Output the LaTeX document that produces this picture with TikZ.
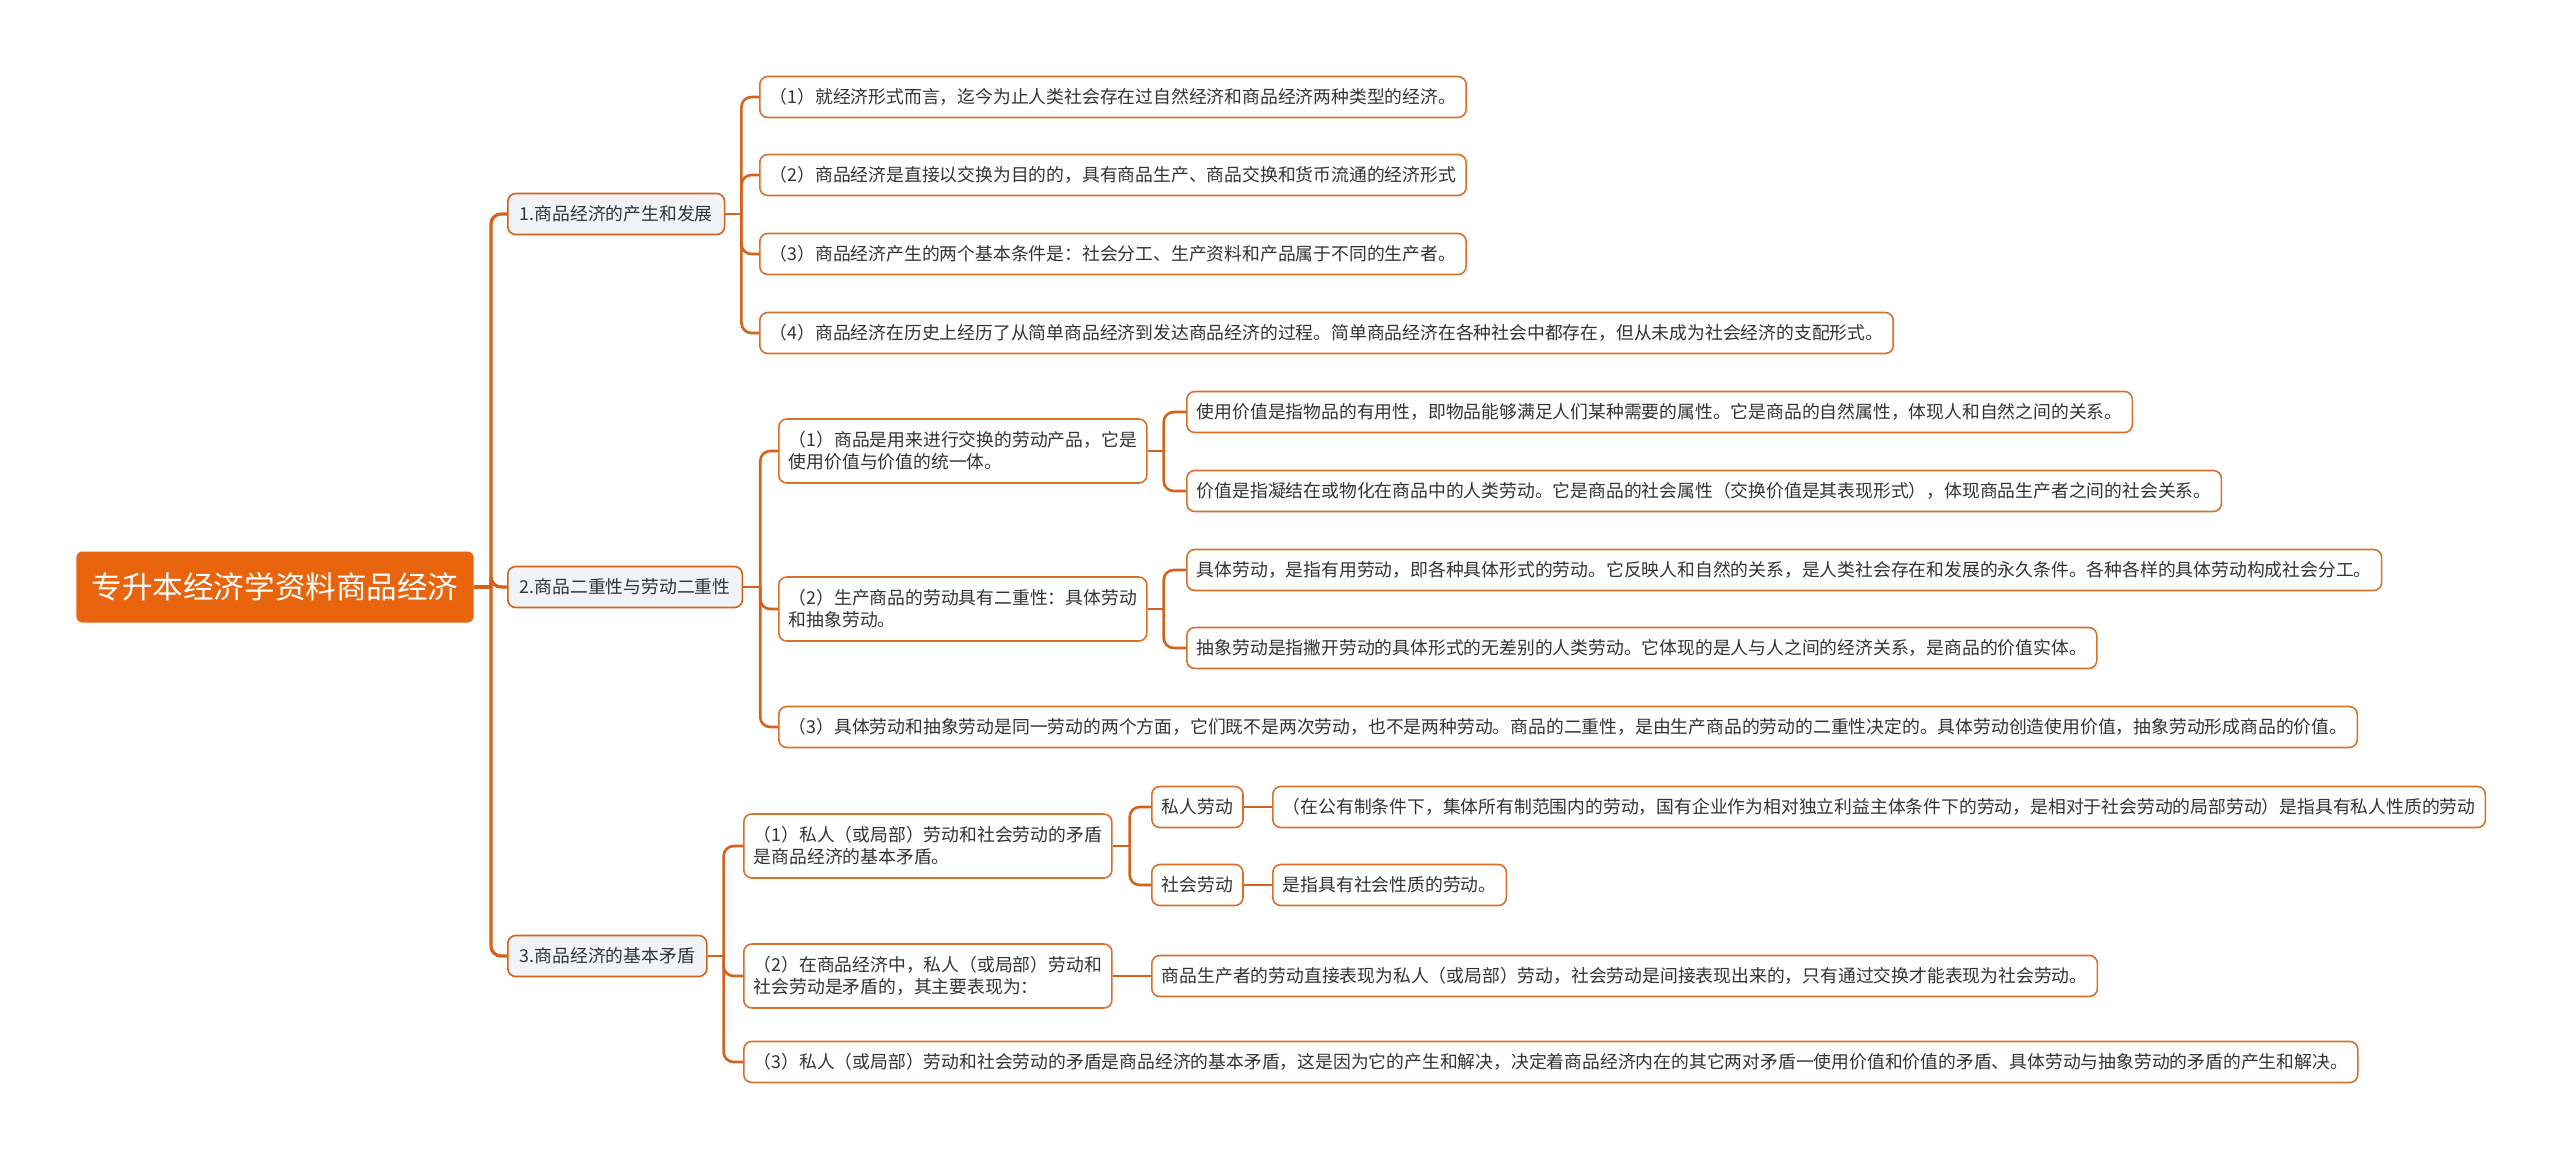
\documentclass[tikz,border=0pt]{standalone}
\usepackage{fontspec}
\setmainfont{Noto Sans CJK SC}
\usetikzlibrary{calc,positioning}
\definecolor{mapline}{HTML}{D5621B}
\definecolor{leafline}{HTML}{D8702E}
\definecolor{rootfill}{HTML}{E8650E}
\definecolor{topicfill}{HTML}{F1F3F6}
\definecolor{maptext}{HTML}{333333}

\begin{document}
\begin{tikzpicture}[x=0.5pt,y=-0.5pt,
    every node/.style={font=\fontsize{8.9pt}{11pt}\selectfont,text=maptext},
    root/.style={fill=rootfill,text=white,rounded corners=3pt,inner xsep=7.5pt,
      minimum height=35.5pt,font=\fontsize{15.3pt}{18pt}\selectfont},
    topic/.style={draw=mapline,line width=0.8pt,fill=topicfill,rounded corners=4pt,
      inner xsep=6pt,minimum height=20.5pt},
    leaf/.style={draw=leafline,line width=0.8pt,fill=white,rounded corners=4pt,
      inner xsep=5pt,minimum height=20.5pt,align=left},
    twoline/.style={leaf,minimum height=32pt},
    link/.style={draw=mapline,line width=1.3pt,rounded corners=5pt},
    trunk/.style={link,line width=1.6pt}]
  \fill[white] (0,0) rectangle (2560,1163);
  \useasboundingbox (0,0) rectangle (2560,1163);

  % root and the three topics
  \node[root,anchor=west] (root) at (76,587) {专升本经济学资料商品经济};
  \node[topic,anchor=west] (s1) at (507,214) {1.商品经济的产生和发展};
  \node[topic,anchor=west] (s2) at (507,587) {2.商品二重性与劳动二重性};
  \node[topic,anchor=west] (s3) at (507,956) {3.商品经济的基本矛盾};

  % topic 1
  \node[leaf,anchor=west] (s1-1) at (759,97) {（1）就经济形式而言，迄今为止人类社会存在过自然经济和商品经济两种类型的经济。};
  \node[leaf,anchor=west] (s1-2) at (759,175) {（2）商品经济是直接以交换为目的的，具有商品生产、商品交换和货币流通的经济形式};
  \node[leaf,anchor=west] (s1-3) at (759,254) {（3）商品经济产生的两个基本条件是：社会分工、生产资料和产品属于不同的生产者。};
  \node[leaf,anchor=west] (s1-4) at (759,333) {（4）商品经济在历史上经历了从简单商品经济到发达商品经济的过程。简单商品经济在各种社会中都存在，但从未成为社会经济的支配形式。};

  % topic 2
  \node[twoline,anchor=west] (s2-1) at (778,451) {（1）商品是用来进行交换的劳动产品，它是\\使用价值与价值的统一体。};
  \node[twoline,anchor=west] (s2-2) at (778,609) {（2）生产商品的劳动具有二重性：具体劳动\\和抽象劳动。};
  \node[leaf,anchor=west] (s2-3) at (778,727) {（3）具体劳动和抽象劳动是同一劳动的两个方面，它们既不是两次劳动，也不是两种劳动。商品的二重性，是由生产商品的劳动的二重性决定的。具体劳动创造使用价值，抽象劳动形成商品的价值。};
  \node[leaf,anchor=west] (s2-1-1) at (1186,412) {使用价值是指物品的有用性，即物品能够满足人们某种需要的属性。它是商品的自然属性，体现人和自然之间的关系。};
  \node[leaf,anchor=west] (s2-1-2) at (1186,491) {价值是指凝结在或物化在商品中的人类劳动。它是商品的社会属性（交换价值是其表现形式），体现商品生产者之间的社会关系。};
  \node[leaf,anchor=west] (s2-2-1) at (1186,570) {具体劳动，是指有用劳动，即各种具体形式的劳动。它反映人和自然的关系，是人类社会存在和发展的永久条件。各种各样的具体劳动构成社会分工。};
  \node[leaf,anchor=west] (s2-2-2) at (1186,648) {抽象劳动是指撇开劳动的具体形式的无差别的人类劳动。它体现的是人与人之间的经济关系，是商品的价值实体。};

  % topic 3
  \node[twoline,anchor=west] (s3-1) at (743,846) {（1）私人（或局部）劳动和社会劳动的矛盾\\是商品经济的基本矛盾。};
  \node[twoline,anchor=west] (s3-2) at (743,976) {（2）在商品经济中，私人（或局部）劳动和\\社会劳动是矛盾的，其主要表现为：};
  \node[leaf,anchor=west] (s3-3) at (743,1062) {（3）私人（或局部）劳动和社会劳动的矛盾是商品经济的基本矛盾，这是因为它的产生和解决，决定着商品经济内在的其它两对矛盾一使用价值和价值的矛盾、具体劳动与抽象劳动的矛盾的产生和解决。};
  \node[leaf,anchor=west] (s3-1-1) at (1151,807) {私人劳动};
  \node[leaf,anchor=west] (s3-1-2) at (1151,885) {社会劳动};
  \node[leaf,anchor=west] (s3-1-1-1) at (1272,807) {（在公有制条件下，集体所有制范围内的劳动，国有企业作为相对独立利益主体条件下的劳动，是相对于社会劳动的局部劳动）是指具有私人性质的劳动};
  \node[leaf,anchor=west] (s3-1-2-1) at (1272,885) {是指具有社会性质的劳动。};
  \node[leaf,anchor=west] (s3-2-1) at (1151,976) {商品生产者的劳动直接表现为私人（或局部）劳动，社会劳动是间接表现出来的，只有通过交换才能表现为社会劳动。};

  % branch joints
  \coordinate (j0) at ($(root.east)+(17,0)$);
  \coordinate (j1) at ($(s1.east)+(16,0)$);
  \coordinate (j2) at ($(s2.east)+(17,0)$);
  \coordinate (j3) at ($(s3.east)+(16,0)$);
  \coordinate (j21) at ($(s2-1.east)+(16,0)$);
  \coordinate (j22) at ($(s2-2.east)+(16,0)$);
  \coordinate (j31) at ($(s3-1.east)+(17,0)$);

  \draw[trunk] (root.east) -- (j0);
  \foreach \n in {s1,s2,s3} \draw[trunk] (j0) |- (\n.west);
  \foreach \p/\j/\kids in {s1/j1/{s1-1,s1-2,s1-3,s1-4},s2/j2/{s2-1,s2-2,s2-3},
      s3/j3/{s3-1,s3-2,s3-3},s2-1/j21/{s2-1-1,s2-1-2},s2-2/j22/{s2-2-1,s2-2-2},
      s3-1/j31/{s3-1-1,s3-1-2}}{
    \draw[link] (\p.east) -- (\j);
    \foreach \k in \kids \draw[link] (\j) |- (\k.west);
  }
  \draw[link] (s3-1-1) -- (s3-1-1-1);
  \draw[link] (s3-1-2) -- (s3-1-2-1);
  \draw[link] (s3-2) -- (s3-2-1);
\end{tikzpicture}
\end{document}
